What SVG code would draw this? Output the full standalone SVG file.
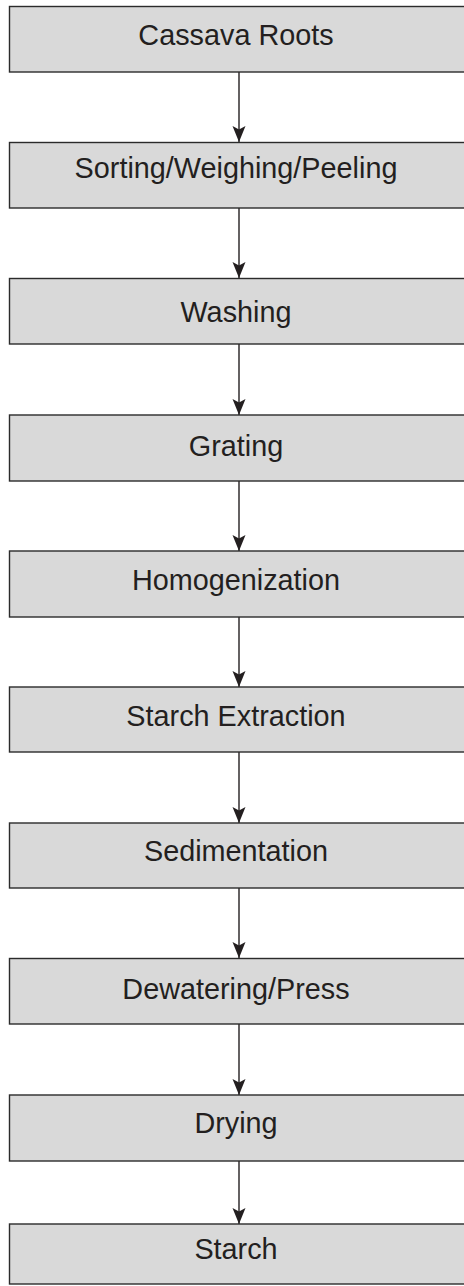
<svg xmlns="http://www.w3.org/2000/svg" width="464" height="1286" viewBox="0 0 464 1286">
<style>
.box{fill:#d9d9d9;stroke:#2b2b2b;stroke-width:1.4}
.lbl{font-family:"Liberation Sans",Arial,sans-serif;font-size:28.8px;fill:#231f20;text-anchor:middle}
.conn{stroke:#231f20;stroke-width:1.4;fill:none;marker-end:url(#ah)}
</style>
<defs>
<marker id="ah" markerUnits="userSpaceOnUse" markerWidth="18" markerHeight="14" viewBox="-17 -7 18 14" refX="0" refY="0" orient="auto">
<path d="M0,0 L-16,-6.5 L-12.5,0 L-16,6.5 Z" fill="#231f20"/>
</marker>
</defs>
<rect width="464" height="1286" fill="#ffffff"/>
<g id="connectors">
<line class="conn" x1="239" y1="72" x2="239" y2="142"/>
<line class="conn" x1="239" y1="208" x2="239" y2="278"/>
<line class="conn" x1="239" y1="344" x2="239" y2="415"/>
<line class="conn" x1="239" y1="481" x2="239" y2="551"/>
<line class="conn" x1="239" y1="617" x2="239" y2="687"/>
<line class="conn" x1="239" y1="752" x2="239" y2="823"/>
<line class="conn" x1="239" y1="888" x2="239" y2="958"/>
<line class="conn" x1="239" y1="1024" x2="239" y2="1095"/>
<line class="conn" x1="239" y1="1161" x2="239" y2="1224"/>
</g>
<g id="n1"><rect class="box" x="9.5" y="6.5" width="460" height="65.5"/><text class="lbl" x="236" y="45">Cassava Roots</text></g>
<g id="n2"><rect class="box" x="9.5" y="142.5" width="460" height="65.5"/><text class="lbl" x="236" y="178">Sorting/Weighing/Peeling</text></g>
<g id="n3"><rect class="box" x="9.5" y="278.5" width="460" height="65.5"/><text class="lbl" x="236" y="322">Washing</text></g>
<g id="n4"><rect class="box" x="9.5" y="415" width="460" height="66"/><text class="lbl" x="236" y="456">Grating</text></g>
<g id="n5"><rect class="box" x="9.5" y="551" width="460" height="66"/><text class="lbl" x="236" y="590">Homogenization</text></g>
<g id="n6"><rect class="box" x="9.5" y="687" width="460" height="65"/><text class="lbl" x="236" y="726">Starch Extraction</text></g>
<g id="n7"><rect class="box" x="9.5" y="823" width="460" height="65"/><text class="lbl" x="236" y="861">Sedimentation</text></g>
<g id="n8"><rect class="box" x="9.5" y="958.5" width="460" height="65.5"/><text class="lbl" x="236" y="999">Dewatering/Press</text></g>
<g id="n9"><rect class="box" x="9.5" y="1095" width="460" height="66"/><text class="lbl" x="236" y="1133">Drying</text></g>
<g id="n10"><rect class="box" x="9.5" y="1224" width="460" height="60"/><text class="lbl" x="236" y="1259">Starch</text></g>
</svg>
